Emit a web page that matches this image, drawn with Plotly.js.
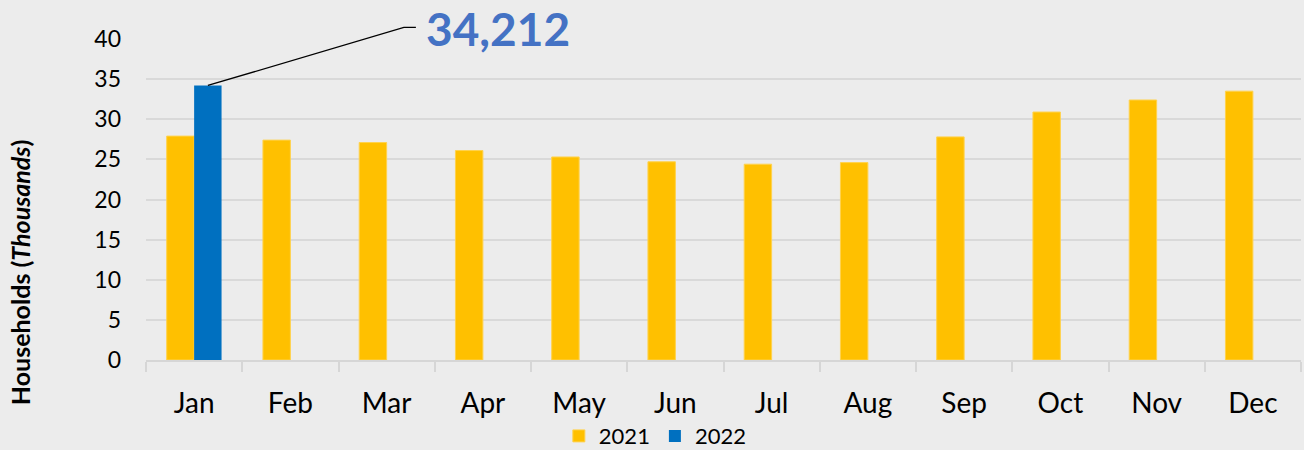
<!DOCTYPE html>
<html>
<head>
<meta charset="utf-8">
<script src="https://cdn.plot.ly/plotly-3.0.1.min.js"></script>
<style>html,body{margin:0;padding:0;background:#ECECEC;}#chart{width:1304px;height:450px;}</style>
</head>
<body>
<div id="chart"></div>
<script>
const months = ["Jan","Feb","Mar","Apr","May","Jun","Jul","Aug","Sep","Oct","Nov","Dec"];
const values2021 = [27.9, 27.4, 27.1, 26.1, 25.3, 24.7, 24.4, 24.6, 27.8, 30.9, 32.4, 33.5];
const values2022 = [34.212, null, null, null, null, null, null, null, null, null, null, null];
const seriesNames = ["2021", "2022"];
const yTicks = [0, 5, 10, 15, 20, 25, 30, 35, 40];
const yRange = [0, 40];
const calloutText = "34,212";

const FONT = "Lato, 'Open Sans', sans-serif";
const traces = [
  {type: "bar", name: seriesNames[0], x: months, y: values2021, marker: {color: "#FFC000", line: {color: "#FFD24D", width: 1}}},
  {type: "bar", name: seriesNames[1], x: months, y: values2022, marker: {color: "#0070C0"}}
];

// position of the 2022 Jan bar centre in category units
const barOffset = 0.143;
const calloutFrac = (values2022[0] - yRange[0]) / (yRange[1] - yRange[0]);

const layout = {
  width: 1304, height: 450,
  paper_bgcolor: "#ECECEC", plot_bgcolor: "#ECECEC",
  margin: {l: 146, r: 3, t: 39, b: 90, autoexpand: false},
  barmode: "group", bargap: 0.43, bargroupgap: 0,
  font: {family: FONT, color: "#000"},
  xaxis: {
    type: "category", automargin: false,
    showline: true, linecolor: "#D6D6D6", linewidth: 2,
    ticks: "outside", tickson: "boundaries", ticklen: 10, tickwidth: 2, tickcolor: "#D6D6D6",
    tickfont: {size: 28, family: FONT, color: "#000"},
    ticklabelstandoff: 17,
    showgrid: false, zeroline: false, fixedrange: true
  },
  yaxis: {
    range: yRange, tickvals: yTicks, ticktext: yTicks.map(String), automargin: false,
    showgrid: true, gridcolor: "#D9D9D9", gridwidth: 2,
    zeroline: false, showline: false, ticks: "",
    tickfont: {size: 23, family: FONT, color: "#000"},
    ticklabelstandoff: 24, fixedrange: true
  },
  legend: {
    orientation: "h", x: 0.441, xanchor: "center", y: -0.237, yanchor: "middle",
    font: {size: 22, family: FONT, color: "#000"}, bgcolor: "rgba(0,0,0,0)",
    traceorder: "normal", itemwidth: 30
  },
  annotations: [
    {
      xref: "paper", yref: "paper", x: -0.109, y: 0.274,
      text: "<b>Households (<i>Thousands</i>)</b>", textangle: -90, showarrow: false,
      font: {size: 25, family: FONT, color: "#000"}, xanchor: "center", yanchor: "middle"
    },
    {
      xref: "x", yref: "y", x: barOffset, y: values2022[0],
      text: "<b>" + calloutText + "</b>", showarrow: false,
      xanchor: "left", yanchor: "middle", xshift: 216, yshift: 57,
      font: {size: 46, family: FONT, color: "#4472C4"}
    }
  ],
  shapes: [
    {
      type: "path", xref: "x", yref: "paper",
      xsizemode: "pixel", ysizemode: "pixel",
      xanchor: barOffset, yanchor: calloutFrac,
      path: "M0,0 L196,58 L208,58",
      line: {color: "#000", width: 1.3}
    }
  ]
};

Plotly.newPlot("chart", traces, layout, {displayModeBar: false, staticPlot: true});
</script>
</body>
</html>
